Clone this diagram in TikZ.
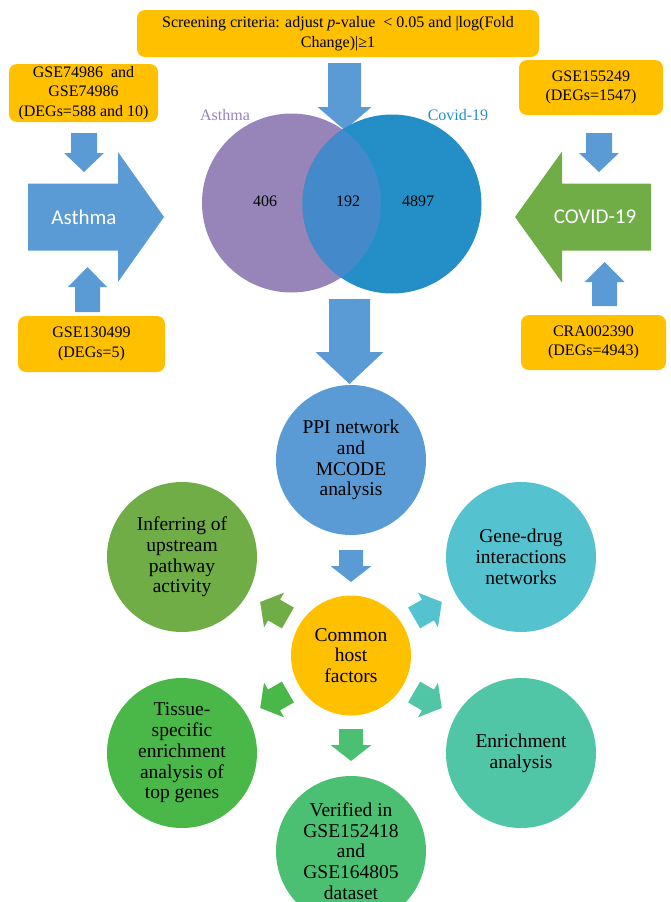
\documentclass[tikz,border=0pt]{standalone}
\usepackage{fontspec}
\setmainfont{Liberation Serif}
\newfontfamily\carlito{Carlito}
\definecolor{ybox}{HTML}{FFC000}
\definecolor{lblue}{HTML}{5B9BD5}
\definecolor{vpurple}{RGB}{151,133,186}
\definecolor{vblue}{RGB}{35,143,198}
\definecolor{vmid}{RGB}{68,137,201}
\definecolor{cgreen}{HTML}{70AD47}
\definecolor{ccyan}{RGB}{84,194,207}
\definecolor{cgreenb}{RGB}{74,184,72}
\definecolor{cteal}{RGB}{80,198,166}
\definecolor{cgreenc}{RGB}{76,192,114}
\newcommand\blockarrow[7]{%
  \fill[#1, shift={(#2)}, rotate=#3] (0,-#5/2) -- (#4-#7,-#5/2) -- (#4-#7,-#6/2) -- (#4,0) -- (#4-#7,#6/2) -- (#4-#7,#5/2) -- (0,#5/2) -- cycle;}
\tikzset{
  databox/.style={fill=ybox, rounded corners=8pt, align=center, inner sep=0pt, font=\fontsize{16}{19.5}\selectfont},
  bigcirc/.style={circle, minimum size=150pt, inner sep=0pt, align=center, font=\fontsize{19.5}{20.7}\selectfont},
  venntext/.style={font=\fontsize{16}{19}\selectfont},
  arrowtext/.style={text=white, font=\carlito\fontsize{21}{24}\selectfont},
}
\begin{document}
\begin{tikzpicture}[x=1pt,y=-1pt]
\useasboundingbox (0,0) rectangle (671,902);
% coordinates for arrow tails
\coordinate (tTop) at (344.5,63);
\coordinate (tL1) at (84,133);
\coordinate (tAs) at (28,217);
\coordinate (tL2) at (87.5,312);
\coordinate (tR1) at (599,133);
\coordinate (tCo) at (651,217);
\coordinate (tR2) at (604.5,306);
\coordinate (tVn) at (349.5,299);
\coordinate (tPPI) at (351,550);
\coordinate (tVer) at (351,729);
\coordinate (tUL) at (287.9,618);
\coordinate (tUR) at (414.1,618);
\coordinate (tLL) at (287.9,692);
\coordinate (tLR) at (414.1,692);

% boxes
\node[databox, minimum width=402pt, minimum height=47pt] (screen) at (338,33.5)
  {Screening criteria: adjust \textit{p}-value\ \ {<} 0.05 and |log(Fold\\Change)|≥1};
\node[databox, minimum width=149pt, minimum height=58pt] (gse74) at (83.5,93)
  {GSE74986\ \ and\\GSE74986\\(DEGs=588 and 10)};
\node[databox, minimum width=147pt, minimum height=56pt] (gse130) at (91.5,344)
  {GSE130499\\(DEGs=5)};
\node[databox, minimum width=144pt, minimum height=55pt] (gse155) at (591,87.5)
  {GSE155249\\(DEGs=1547)};
\node[databox, minimum width=145pt, minimum height=55pt] (cra) at (593.5,342.5)
  {CRA002390\\(DEGs=4943)};

% arrows top part
\blockarrow{lblue}{tTop}{-90}{67}{33}{54}{23}
\blockarrow{lblue}{tL1}{-90}{39}{26}{40}{19}
\blockarrow{lblue}{tAs}{0}{136}{67}{130}{46}
\blockarrow{lblue}{tL2}{90}{45}{25}{39}{20}
\blockarrow{lblue}{tR1}{-90}{39}{26}{40}{19}
\blockarrow{cgreen}{tCo}{180}{136}{67}{131}{47}
\blockarrow{lblue}{tR2}{90}{44}{25}{40}{20}
\blockarrow{lblue}{tVn}{-90}{85}{41}{68}{32}
\node[arrowtext] (asthmaA) at (84,217) {Asthma};
\node[arrowtext] (covidA) at (595,217) {COVID-19};

% Venn
\fill[vpurple] (291.5,203) circle (89.5);
\fill[vblue] (392,204) circle (89.5);
\begin{scope}
  \clip (291.5,203) circle (89.5);
  \fill[vmid] (392,204) circle (89.5);
\end{scope}
\node[venntext, text=vpurple] (lasthma) at (225,115) {Asthma};
\node[venntext, text=vblue] (lcovid) at (458,115) {Covid-19};
\node[venntext] (n406) at (265,201) {406};
\node[venntext] (n192) at (348,201) {192};
\node[venntext] (n4897) at (418,201) {4897};

% circles
\node[bigcirc, fill=lblue] (ppi) at (351,460) {PPI network\\and\\MCODE\\analysis};
\node[bigcirc, fill=ybox, minimum size=120pt] (common) at (351,655.5) {Common\\host\\factors};
\node[bigcirc, fill=cgreen] (infer) at (182,557) {Inferring of\\upstream\\pathway\\activity};
\node[bigcirc, fill=ccyan] (gdrug) at (521,557) {Gene-drug\\interactions\\networks};
\node[bigcirc, fill=cgreenb] (tissue) at (182,753) {Tissue-\\specific\\enrichment\\analysis of\\top genes};
\node[bigcirc, fill=cteal] (enrich) at (521,753) {Enrichment\\analysis};
\node[bigcirc, fill=cgreenc] (verif) at (351,851) {Verified in\\GSE152418\\and\\GSE164805\\dataset};

% arrows bottom part
\blockarrow{lblue}{tPPI}{-90}{32}{24}{41}{16}
\blockarrow{cgreenc}{tVer}{-90}{32}{24}{41}{16}
\blockarrow{cgreen}{tUL}{150}{32}{24}{40}{16}
\blockarrow{ccyan}{tUR}{30}{32}{24}{40}{16}
\blockarrow{cgreenb}{tLL}{210}{32}{24}{40}{16}
\blockarrow{cteal}{tLR}{-30}{32}{24}{40}{16}
\end{tikzpicture}
\end{document}
